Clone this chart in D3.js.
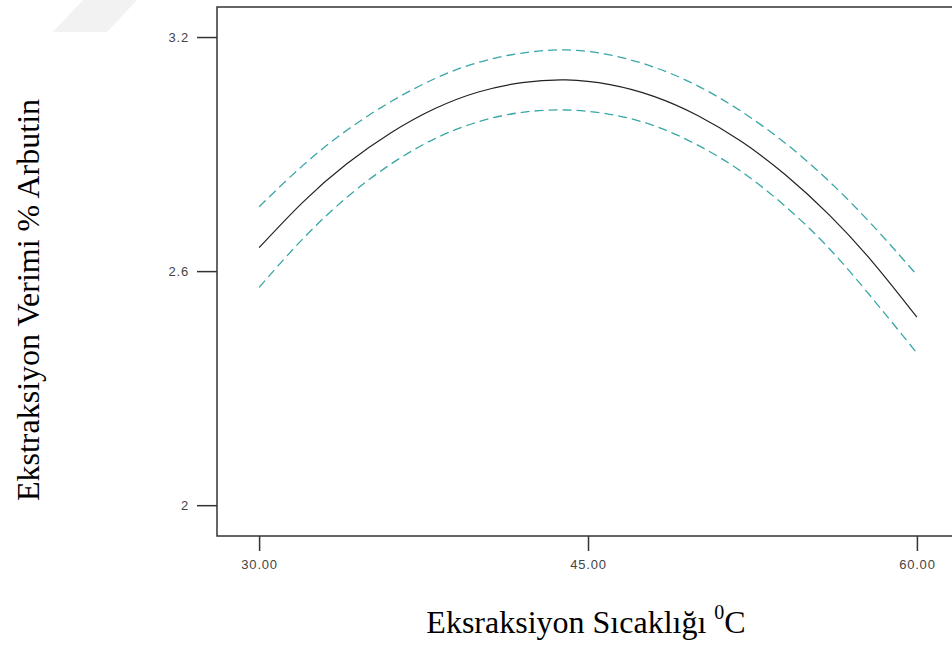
<!DOCTYPE html>
<html>
<head>
<meta charset="utf-8">
<script src="https://cdn.jsdelivr.net/npm/d3@7"></script>
<style>
  body { margin: 0; background: #fff; }
  svg { display: block; }
</style>
</head>
<body>
<svg width="952" height="645"></svg>
<script>
// temperature (x) and the fitted line with its two confidence bands
const temps = [30, 32, 34, 36, 38, 40, 42, 44, 46, 48, 50, 52, 54, 56, 58, 60];
const fitValues = [2.660, 2.777, 2.875, 2.954, 3.016, 3.059, 3.083, 3.090, 3.078, 3.048, 2.999, 2.932, 2.847, 2.744, 2.622, 2.482];
const upperValues = [2.765, 2.871, 2.961, 3.034, 3.093, 3.135, 3.159, 3.167, 3.154, 3.123, 3.075, 3.009, 2.928, 2.830, 2.716, 2.590];
const lowerValues = [2.558, 2.683, 2.789, 2.874, 2.939, 2.983, 3.007, 3.013, 3.002, 2.973, 2.923, 2.855, 2.766, 2.658, 2.528, 2.390];

const xTicks = [30, 45, 60];
const xTickLabels = ['30.00', '45.00', '60.00'];
const yTicks = [2, 2.6, 3.2];
const yTickLabels = ['2', '2.6', '3.2'];

const svg = d3.select('svg');

// plot frame (right side runs past the window)
const plotLeft = 217, plotTop = 7, plotRight = 952, plotBottom = 536;

const x = d3.scaleLinear()
    .domain([28.08, 61.6])
    .range([plotLeft, plotRight]);

const y = d3.scaleLinear()
    .domain([1.921, 3.277])
    .range([plotBottom, plotTop]);

// faint watermark in the corner
svg.append('polygon')
    .attr('points', '53,32 107,32 137,0 83,0')
    .attr('fill', '#f2f2f2');

svg.append('rect')
    .attr('x', plotLeft)
    .attr('y', plotTop)
    .attr('width', plotRight - plotLeft + 20)
    .attr('height', plotBottom - plotTop)
    .attr('fill', 'none')
    .attr('stroke', '#333')
    .attr('stroke-width', 1.5);

// axes
const xAxis = svg.append('g')
    .attr('transform', `translate(0,${plotBottom})`)
    .call(d3.axisBottom(x)
        .tickValues(xTicks)
        .tickSize(15)
        .tickPadding(9)
        .tickFormat((d, i) => xTickLabels[i]));

const yAxis = svg.append('g')
    .attr('transform', `translate(${plotLeft},0)`)
    .call(d3.axisLeft(y)
        .tickValues(yTicks)
        .tickSize(20)
        .tickPadding(8)
        .tickFormat((d, i) => yTickLabels[i]));

[xAxis, yAxis].forEach(g => {
    g.select('.domain').remove();
    g.selectAll('.tick line').attr('stroke', '#333').attr('stroke-width', 1.5);
    g.selectAll('.tick text')
        .attr('fill', '#444')
        .style('font-family', '"Liberation Sans", Arial, sans-serif')
        .style('font-size', '13px')
        .style('letter-spacing', '0.8px');
});

// lines
const line = vals => d3.line()
    .x((d, i) => x(temps[i]))
    .y(d => y(d))
    .curve(d3.curveNatural)(vals);

svg.append('path')
    .attr('d', line(upperValues))
    .attr('fill', 'none')
    .attr('stroke', '#3aa6a6')
    .attr('stroke-width', 1.3)
    .attr('stroke-dasharray', '9,5');

svg.append('path')
    .attr('d', line(lowerValues))
    .attr('fill', 'none')
    .attr('stroke', '#3aa6a6')
    .attr('stroke-width', 1.3)
    .attr('stroke-dasharray', '9,5');

svg.append('path')
    .attr('d', line(fitValues))
    .attr('fill', 'none')
    .attr('stroke', '#222')
    .attr('stroke-width', 1.2);

// axis titles
const xTitle = svg.append('text')
    .attr('x', 586)
    .attr('y', 633)
    .attr('text-anchor', 'middle')
    .style('font-family', '"Liberation Serif", "Times New Roman", serif')
    .style('font-size', '32px')
    .attr('fill', '#000');
xTitle.append('tspan').text('Eksraksiyon Sıcaklığı ');
xTitle.append('tspan').attr('dy', -14).style('font-size', '20px').text('0');
xTitle.append('tspan').attr('dy', 14).text('C');

svg.append('text')
    .attr('transform', 'translate(39,300) rotate(-90)')
    .attr('text-anchor', 'middle')
    .style('font-family', '"Liberation Serif", "Times New Roman", serif')
    .style('font-size', '32px')
    .attr('fill', '#000')
    .text('Ekstraksiyon Verimi % Arbutin');
</script>
</body>
</html>
